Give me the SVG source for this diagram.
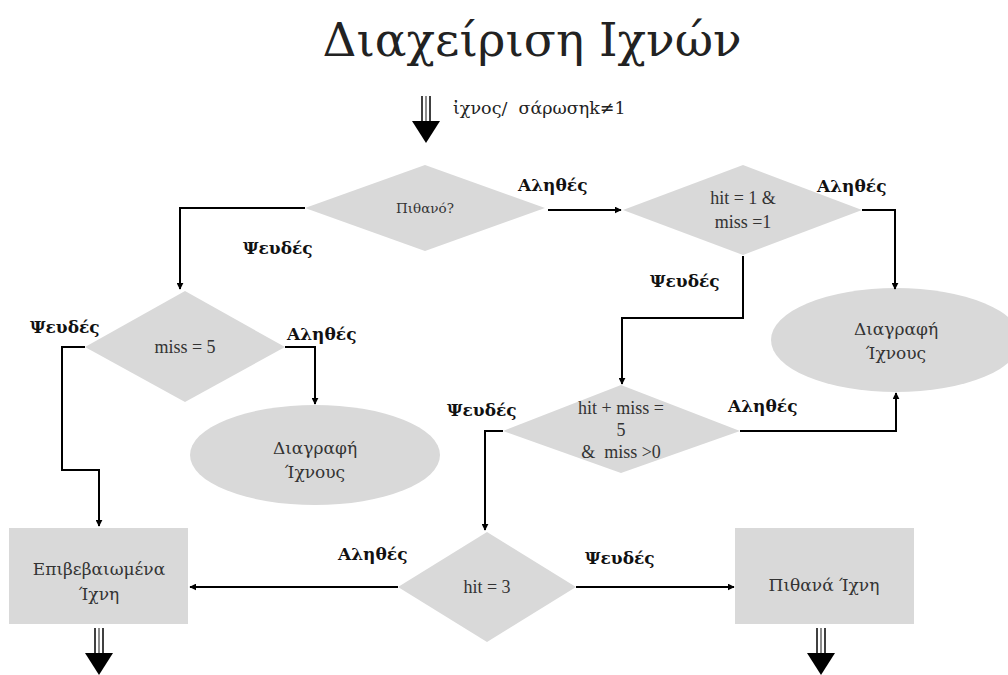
<svg xmlns="http://www.w3.org/2000/svg" width="1008" height="675" viewBox="0 0 1008 675">
<style>
.shape{fill:#d9d9d9;stroke:none}
.nt{font-family:"DejaVu Serif","Liberation Serif",serif;font-size:17px;fill:#333;text-anchor:middle}
.lt{font-family:"Liberation Serif","DejaVu Serif",serif;font-size:18px;fill:#333;text-anchor:middle}
.ns{font-size:13.5px}
.lb{font-family:"DejaVu Serif","Liberation Serif",serif;font-size:17px;font-weight:bold;fill:#111}
.ln{fill:none;stroke:#000;stroke-width:2}
.tl{stroke:#000;stroke-width:1.5}
</style>
<defs>
<marker id="ah" viewBox="0 0 10 10" refX="9" refY="5" markerWidth="7" markerHeight="7" markerUnits="userSpaceOnUse" orient="auto"><path d="M0,0 L10,5 L0,10 z" fill="#000"/></marker>
<g id="bigarrow"><line class="tl" x1="-4" y1="0" x2="-4" y2="26"/><line x1="0" y1="0" x2="0" y2="26" stroke="#666" stroke-width="1.5"/><line class="tl" x1="4" y1="0" x2="4" y2="26"/><path d="M-14,25 L14,25 L0,47 z" fill="#000"/></g>
</defs>
<rect width="1008" height="675" fill="#fff"/>
<text x="532" y="56" font-family="'DejaVu Serif','Liberation Serif',serif" font-size="47" fill="#222" text-anchor="middle">Διαχείριση Ιχνών</text>

<g id="entry"><use href="#bigarrow" x="426" y="96"/><text x="453" y="114" font-family="'DejaVu Serif','Liberation Serif',serif" font-size="17.5" fill="#222" xml:space="preserve">ἰχνος/  σάρωσηk≠1</text></g>

<g id="d1"><polygon class="shape" points="305,208 425,165 545,208 425,251"/><text class="nt ns" x="425" y="213">Πιθανό?</text></g>
<g id="d2"><polygon class="shape" points="623,210 743,165 862,210 743,255"/><text class="lt" x="743" y="204">hit = 1 &amp;</text><text class="lt" x="743" y="228">miss =1</text></g>
<g id="d3"><polygon class="shape" points="85,347 185,291 285,347 185,402"/><text class="lt" x="185" y="353">miss = 5</text></g>
<g id="d4"><polygon class="shape" points="503,431 621,385 740,431 621,473"/><text class="lt" x="621" y="414">hit + miss =</text><text class="lt" x="621" y="436">5</text><text class="lt" x="621" y="458" xml:space="preserve">&amp;  miss &gt;0</text></g>
<g id="d5"><polygon class="shape" points="398,587 487,532 576,587 487,642"/><text class="lt" x="487" y="593">hit = 3</text></g>
<g id="e1"><ellipse class="shape" cx="896" cy="340" rx="125" ry="52"/><text class="nt" x="896" y="335">Διαγραφή</text><text class="nt" x="896" y="359">Ίχνους</text></g>
<g id="e2"><ellipse class="shape" cx="315" cy="455" rx="125" ry="50"/><text class="nt" x="315" y="454">Διαγραφή</text><text class="nt" x="315" y="478">Ίχνους</text></g>
<g id="b1"><rect class="shape" x="9" y="528" width="179" height="96"/><text class="nt" x="99" y="575">Επιβεβαιωμένα</text><text class="nt" x="99" y="600">Ίχνη</text></g>
<g id="b2"><rect class="shape" x="735" y="528" width="179" height="96"/><text class="nt" x="824" y="591">Πιθανά Ίχνη</text></g>
<g id="exits"><use href="#bigarrow" x="99" y="628"/><use href="#bigarrow" x="821" y="628"/></g>

<g id="connectors">
<path class="ln" d="M548,210 L621,210" marker-end="url(#ah)"/>
<path class="ln" d="M862,210 L895,210 L895,289" marker-end="url(#ah)"/>
<path class="ln" d="M743,256 L743,318 L622,318 L622,384" marker-end="url(#ah)"/>
<path class="ln" d="M740,431 L896,431 L896,393" marker-end="url(#ah)"/>
<path class="ln" d="M503,431 L485,431 L485,530" marker-end="url(#ah)"/>
<path class="ln" d="M305,208 L180,208 L180,289" marker-end="url(#ah)"/>
<path class="ln" d="M85,347 L62,347 L62,470 L99,470 L99,526" marker-end="url(#ah)"/>
<path class="ln" d="M285,347 L315,347 L315,404" marker-end="url(#ah)"/>
<path class="ln" d="M398,587 L190,587" marker-end="url(#ah)"/>
<path class="ln" d="M576,587 L734,587" marker-end="url(#ah)"/>
</g>
<g id="labels">
<text class="lb" x="518" y="191">Αληθές</text>
<text class="lb" x="817" y="192">Αληθές</text>
<text class="lb" x="650" y="287">Ψευδές</text>
<text class="lb" x="243" y="254">Ψευδές</text>
<text class="lb" x="30" y="333">Ψευδές</text>
<text class="lb" x="287" y="340">Αληθές</text>
<text class="lb" x="447" y="416">Ψευδές</text>
<text class="lb" x="728" y="412">Αληθές</text>
<text class="lb" x="338" y="560">Αληθές</text>
<text class="lb" x="585" y="564">Ψευδές</text>
</g>
</svg>
